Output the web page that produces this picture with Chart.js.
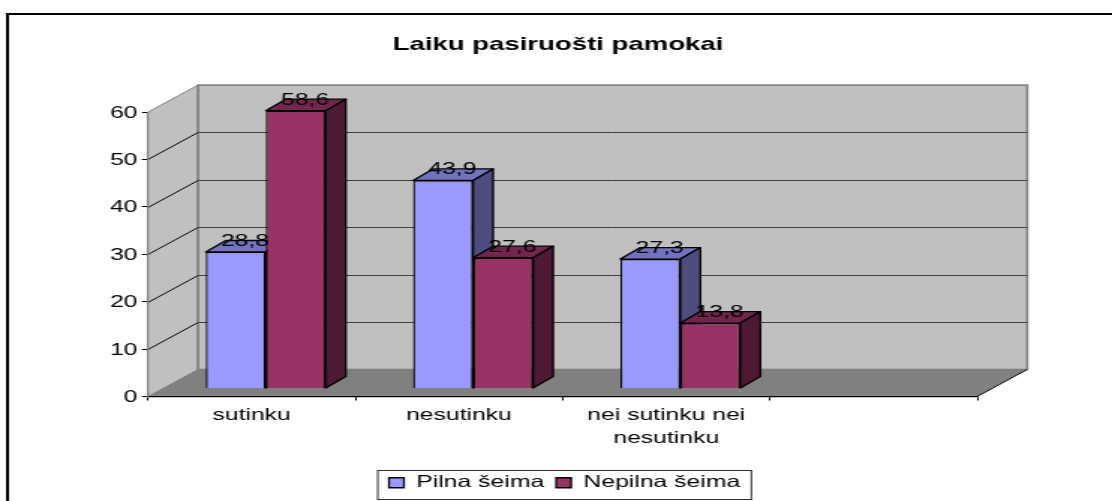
<!DOCTYPE html>
<html>
<head>
<meta charset="utf-8">
<title>Laiku pasiruošti pamokai</title>
<script src="https://cdn.jsdelivr.net/npm/chart.js@4"></script>
<style>
    html, body { margin: 0; padding: 0; background: #fff; overflow: hidden; }
    /* the original picture is stretched sideways, so the canvas is too */
    #chart { display: block; transform: scaleX(1.4987); transform-origin: 0 0; }
</style>
</head>
<body>
<canvas id="chart" width="742" height="501"></canvas>
<script>
categories = ['sutinku', 'nesutinku', ['nei sutinku nei', 'nesutinku'], '']
pilna_values = [28.8, 43.9, 27.3, null]
nepilna_values = [58.6, 27.6, 13.8, null]
y_ticks_max = 60
y_ticks_step = 10

pilna_color = '#9999FF'
pilna_top = '#7373BF'
pilna_side = '#4D4D80'
nepilna_color = '#993366'
nepilna_top = '#73264D'
nepilna_side = '#4D1A33'

font_family = '"Liberation Sans", Arial, sans-serif'

// depth of the fake 3d box, canvas pixels
wall_dx = 33.4
wall_dy = 27
bar_shift_x = 9.4
bar_shift_y = 8
bar_dx = 13.4
bar_dy = 11.5

const box3d = {
    id: 'box3d',
    afterLayout(chart) {
        // padding is lopsided, so put title and legend back where they belong
        chart.titleBlock.left += 42.3
        chart.titleBlock.right += 42.3
        chart.legend.left += 46.7
        chart.legend.right += 46.7
    },
    beforeDraw(chart) {
        const ctx = chart.ctx
        const a = chart.chartArea
        const y = chart.scales.y

        // outer frame, runs off the picture on the right and at the bottom
        ctx.save()
        ctx.strokeStyle = '#000'
        ctx.lineWidth = 2
        ctx.strokeRect(5, 14, 800, 600)

        // side wall
        ctx.fillStyle = '#C0C0C0'
        ctx.beginPath()
        ctx.moveTo(a.left, a.top)
        ctx.lineTo(a.left + wall_dx, a.top - wall_dy)
        ctx.lineTo(a.left + wall_dx, a.bottom - wall_dy)
        ctx.lineTo(a.left, a.bottom)
        ctx.closePath()
        ctx.fill()
        ctx.strokeStyle = '#808080'
        ctx.lineWidth = 1
        ctx.stroke()

        // floor
        ctx.fillStyle = '#808080'
        ctx.beginPath()
        ctx.moveTo(a.left, a.bottom)
        ctx.lineTo(a.left + wall_dx, a.bottom - wall_dy)
        ctx.lineTo(a.right + wall_dx, a.bottom - wall_dy)
        ctx.lineTo(a.right, a.bottom)
        ctx.closePath()
        ctx.fill()

        // back wall
        ctx.fillStyle = '#C0C0C0'
        ctx.fillRect(a.left + wall_dx, a.top - wall_dy, a.width, a.height)
        ctx.strokeStyle = '#808080'
        ctx.lineWidth = 1.6
        ctx.strokeRect(a.left + wall_dx, a.top - wall_dy, a.width, a.height)

        // grid lines on both walls
        for (let v = y_ticks_step; v < y_ticks_max; v += y_ticks_step) {
            const py = Math.round(y.getPixelForValue(v)) + 0.5
            ctx.lineWidth = 1
            ctx.strokeStyle = '#000'
            ctx.beginPath()
            ctx.moveTo(a.left, py)
            ctx.lineTo(a.left + wall_dx, py - wall_dy)
            ctx.stroke()
            ctx.strokeStyle = '#404040'
            ctx.beginPath()
            ctx.moveTo(a.left + wall_dx, py - wall_dy)
            ctx.lineTo(a.right + wall_dx, py - wall_dy)
            ctx.stroke()
        }

        // floor edge on the right
        ctx.strokeStyle = '#000'
        ctx.lineWidth = 1
        ctx.beginPath()
        ctx.moveTo(a.right, a.bottom)
        ctx.lineTo(a.right + wall_dx, a.bottom - wall_dy)
        ctx.stroke()
        ctx.restore()
    },
    beforeDatasetsDraw(chart) {
        const ctx = chart.ctx
        ctx.save()
        ctx.translate(bar_shift_x, -bar_shift_y)

        const faces = [[pilna_top, pilna_side], [nepilna_top, nepilna_side]]
        for (let j = 0; j < categories.length; j++) {
            faces.forEach((colors, i) => {
                if (chart.data.datasets[i].data[j] === null) {
                    return
                }
                const bar = chart.getDatasetMeta(i).data[j]
                const l = bar.x - bar.width / 2
                const r = bar.x + bar.width / 2
                ctx.lineWidth = 1.3
                ctx.strokeStyle = '#000'
                ctx.lineJoin = 'round'

                ctx.fillStyle = colors[0]
                ctx.beginPath()
                ctx.moveTo(l, bar.y)
                ctx.lineTo(l + bar_dx, bar.y - bar_dy)
                ctx.lineTo(r + bar_dx, bar.y - bar_dy)
                ctx.lineTo(r, bar.y)
                ctx.closePath()
                ctx.fill()
                ctx.stroke()

                ctx.fillStyle = colors[1]
                ctx.beginPath()
                ctx.moveTo(r, bar.y)
                ctx.lineTo(r + bar_dx, bar.y - bar_dy)
                ctx.lineTo(r + bar_dx, bar.base - bar_dy)
                ctx.lineTo(r, bar.base)
                ctx.closePath()
                ctx.fill()
                ctx.stroke()
            })
        }
    },
    afterDatasetsDraw(chart) {
        const ctx = chart.ctx
        ctx.restore()

        // value labels
        ctx.save()
        ctx.fillStyle = '#000'
        ctx.font = '16.5px ' + font_family
        ctx.textAlign = 'center'
        ctx.textBaseline = 'middle'
        chart.data.datasets.forEach((dataset, i) => {
            chart.getDatasetMeta(i).data.forEach((bar, j) => {
                if (dataset.data[j] === null) {
                    return
                }
                const label = String(dataset.data[j]).replace('.', ',')
                ctx.fillText(label, bar.x + bar_shift_x + 6.2, bar.y - bar_shift_y - 10.5)
            })
        })
        ctx.restore()
    },
    afterDraw(chart) {
        // frame round the legend
        const ctx = chart.ctx
        const boxes = chart.legend.legendHitBoxes
        const l = boxes[0].left
        const last = boxes[boxes.length - 1]
        ctx.save()
        ctx.strokeStyle = '#303030'
        ctx.lineWidth = 1
        ctx.strokeRect(l - 7.5, 470.5, last.left + last.width - l + 15, 29)
        ctx.restore()
    }
}

new Chart(document.getElementById('chart'), {
    type: 'bar',
    data: {
        labels: categories,
        datasets: [{
            label: 'Pilna šeima',
            data: pilna_values,
            backgroundColor: pilna_color,
            borderColor: '#000',
            borderWidth: 1.3
        }, {
            label: 'Nepilna šeima',
            data: nepilna_values,
            backgroundColor: nepilna_color,
            borderColor: '#000',
            borderWidth: 1.3
        }]
    },
    options: {
        responsive: false,
        animation: false,
        devicePixelRatio: 1,
        barPercentage: 1,
        categoryPercentage: 0.579,
        layout: {
            padding: { left: 8, right: 90, top: 0, bottom: 0 }
        },
        font: { family: font_family },
        scales: {
            x: {
                afterFit(scale) { scale.height = 70 },
                grid: {
                    offset: true,
                    drawOnChartArea: false,
                    tickLength: 4,
                    tickColor: '#000'
                },
                border: { color: '#000', width: 1.3 },
                ticks: {
                    color: '#000',
                    maxRotation: 0,
                    autoSkip: false,
                    padding: 4,
                    font: { family: font_family, size: 16.5, lineHeight: 1.36 }
                }
            },
            y: {
                min: 0,
                max: y_ticks_max,
                afterFit(scale) { scale.width = 90.75 },
                grid: {
                    drawOnChartArea: false,
                    tickLength: 4,
                    tickColor: '#000'
                },
                border: { color: '#808080', width: 1 },
                ticks: {
                    color: '#000',
                    stepSize: y_ticks_step,
                    padding: 3,
                    labelOffset: 1,
                    font: { family: font_family, size: 16.5 }
                }
            }
        },
        plugins: {
            title: {
                display: true,
                text: 'Laiku pasiruošti pamokai',
                color: '#000',
                font: { family: font_family, size: 18.4, weight: 'bold', lineHeight: 1.2 },
                padding: { top: 34, bottom: 56 }
            },
            legend: {
                position: 'bottom',
                labels: {
                    color: '#000',
                    boxWidth: 10,
                    boxHeight: 10,
                    padding: 8,
                    font: { family: font_family, size: 16.5 }
                }
            },
            tooltip: { enabled: false }
        }
    },
    plugins: [box3d]
})
</script>
</body>
</html>
